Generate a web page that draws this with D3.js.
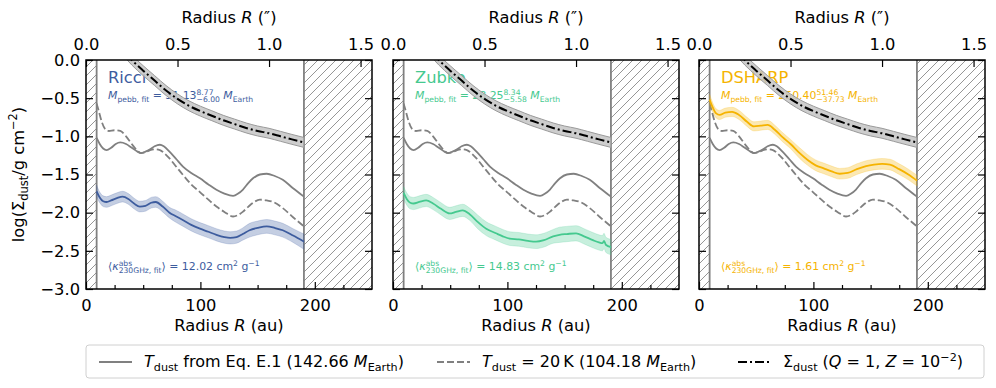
<!DOCTYPE html>
<html>
<head>
<meta charset="utf-8">
<script src="https://cdn.jsdelivr.net/npm/d3@7"></script>
<style>
  body { margin: 0; background: #fff; }
  text { font-family: "DejaVu Sans", sans-serif; white-space: pre; }
</style>
</head>
<body>
<svg id="fig" width="996" height="388"></svg>
<script>
// ---- data ----
// T_dust from Eq. E.1 (same in every panel)
const radiusEq = [9.3, 12, 15, 18, 22, 26, 30, 35, 40, 45, 48, 52, 56, 60, 64.6, 68, 73, 79, 85, 92, 99.6, 107, 114, 121, 128.6, 133, 137, 142, 146, 152, 158, 165, 172, 181, 190.5];
const sigmaEq = [-1.02, -1.10, -1.16, -1.18, -1.15, -1.10, -1.08, -1.10, -1.15, -1.20, -1.22, -1.20, -1.17, -1.13, -1.11, -1.13, -1.20, -1.30, -1.40, -1.48, -1.55, -1.63, -1.70, -1.75, -1.78, -1.75, -1.70, -1.61, -1.55, -1.50, -1.49, -1.52, -1.57, -1.68, -1.79];
// T_dust = 20 K
const radius20K = [9.3, 11, 14, 17, 20, 25, 30, 35, 40, 45, 48, 52, 56, 60, 64.6, 69, 73, 79, 85, 92, 99.6, 107, 114, 121, 128.6, 133, 137, 142, 147, 152, 158, 163.6, 172, 181, 190.5];
const sigma20K = [-0.57, -0.66, -0.82, -0.91, -0.93, -0.92, -0.93, -1.00, -1.10, -1.19, -1.22, -1.21, -1.18, -1.17, -1.18, -1.23, -1.29, -1.40, -1.51, -1.63, -1.73, -1.83, -1.92, -1.99, -2.05, -2.03, -1.99, -1.92, -1.86, -1.83, -1.84, -1.86, -1.94, -2.06, -2.18];
// Sigma_dust (Q = 1, Z = 1e-2)
const radiusQ = [35, 40, 50, 60, 70, 80, 90, 100, 110, 120, 130, 140, 150, 160, 170, 180, 190.5];
const sigmaQ = [0.08, 0.0, -0.14, -0.27, -0.40, -0.51, -0.60, -0.67, -0.73, -0.79, -0.84, -0.89, -0.93, -0.96, -1.00, -1.04, -1.08];
const errQ = 0.065;

// fitted profiles per opacity model
const ricciR = [9.3, 12, 15, 18, 22, 27, 32, 37, 42, 47, 52, 57, 61, 67, 73, 79, 85, 92, 99.6, 107, 114, 121, 126, 131.6, 137, 143, 150, 158, 165, 172, 181, 190.5];
const ricciSigma = [-1.72, -1.80, -1.85, -1.86, -1.84, -1.81, -1.79, -1.82, -1.88, -1.92, -1.91, -1.87, -1.86, -1.92, -2.00, -2.05, -2.10, -2.16, -2.21, -2.25, -2.29, -2.32, -2.33, -2.32, -2.28, -2.23, -2.20, -2.18, -2.20, -2.23, -2.30, -2.38];
const ricciErr = [0.08, 0.07, 0.07, 0.07, 0.07, 0.07, 0.07, 0.07, 0.07, 0.07, 0.07, 0.07, 0.07, 0.07, 0.07, 0.08, 0.08, 0.08, 0.08, 0.08, 0.08, 0.08, 0.08, 0.08, 0.08, 0.09, 0.09, 0.09, 0.09, 0.09, 0.09, 0.10];
const zubkoR = [9.3, 12, 15, 18, 23, 29, 35, 42, 49.5, 55, 61, 67, 74, 81.5, 90, 96, 102, 110, 118, 125, 132, 140, 145.6, 152, 160, 167, 174.7, 180, 183, 184.5, 186, 190.5];
const zubkoSigma = [-1.74, -1.82, -1.87, -1.88, -1.86, -1.84, -1.88, -1.95, -2.01, -1.99, -1.97, -2.02, -2.12, -2.21, -2.27, -2.31, -2.34, -2.35, -2.37, -2.38, -2.36, -2.31, -2.29, -2.28, -2.27, -2.31, -2.36, -2.39, -2.40, -2.37, -2.42, -2.45];
const zubkoErr = [0.08, 0.08, 0.08, 0.08, 0.08, 0.08, 0.08, 0.08, 0.08, 0.08, 0.08, 0.08, 0.09, 0.09, 0.09, 0.09, 0.09, 0.09, 0.09, 0.09, 0.09, 0.09, 0.10, 0.10, 0.10, 0.10, 0.10, 0.10, 0.10, 0.10, 0.10, 0.10];
const dsharpR = [9.3, 12, 15, 18, 23, 29, 35, 42, 48, 54, 60, 66, 73, 80, 88, 95, 102, 109, 116, 123, 130, 138, 146, 153, 160, 167, 175, 183, 190.5];
const dsharpSigma = [-0.52, -0.62, -0.70, -0.72, -0.69, -0.68, -0.72, -0.81, -0.87, -0.86, -0.85, -0.91, -1.01, -1.10, -1.22, -1.31, -1.38, -1.42, -1.46, -1.49, -1.48, -1.43, -1.39, -1.37, -1.36, -1.37, -1.43, -1.50, -1.58];
const dsharpErr = [0.07, 0.06, 0.06, 0.06, 0.06, 0.06, 0.06, 0.06, 0.06, 0.06, 0.06, 0.06, 0.06, 0.06, 0.07, 0.07, 0.07, 0.07, 0.07, 0.07, 0.07, 0.07, 0.07, 0.07, 0.07, 0.07, 0.07, 0.07, 0.07];

const modelNames = ["Ricci", "Zubko", "DSHARP"];
const massFit = [31.13, 28.25, 250.40];
const massUp = [8.77, 8.34, 51.46];
const massLo = [6.00, 5.58, 37.73];
const kappaFit = [12.02, 14.83, 1.61];
const massEq = 142.66, mass20K = 104.18;

const auTicks = [0, 100, 200];
const auMinorTicks = [25, 50, 75, 125, 150, 175, 225];
const arcsecTicks = [0, 0.5, 1.0, 1.5];
const sigmaTicks = [-3, -2.5, -2, -1.5, -1, -0.5, 0];
const innerCut = 9.3, outerCut = 190.5;   // hatched (excluded) regions, au
const auPerArcsec = 160;

// ---- layout ----
const colors = ["#3d5c9e", "#45c98f", "#f5b300"];
const panelLeft = [86, 393, 699], panelWidth = 286;
const plotTop = 60, plotBottom = 289;
const fs = 16.3, fsSmall = 10.9;

const svg = d3.select("#fig");
const defs = svg.append("defs");
defs.append("pattern")
    .attr("id", "hatch").attr("patternUnits", "userSpaceOnUse")
    .attr("width", 9).attr("height", 9)
  .append("path")
    .attr("d", "M-2,2 l4,-4 M0,9 l9,-9 M7,11 l4,-4")
    .attr("stroke", "#8a8a8a").attr("stroke-width", 0.9);

// text with italic / sub / sup pieces, measured piece by piece
function richText(parent, x, y, parts, size, color) {
    const grp = parent.append("g").attr("transform", `translate(${x},${y})`);
    let cx = 0, stackStart = 0, stackW = 0;
    parts.forEach(p => {
        const small = p.pos ? size * 0.7 : size;
        const dy = p.pos === "sup" ? -size * 0.4 : p.pos === "sub" ? size * 0.25 : 0;
        const px = p.stack ? stackStart : cx;
        const t = grp.append("text")
            .attr("x", px).attr("y", dy)
            .attr("font-size", small)
            .attr("font-style", p.it ? "italic" : null)
            .attr("fill", color)
            .text(p.s);
        const w = t.node().getComputedTextLength();
        if (p.stack) {
            cx = stackStart + Math.max(stackW, w);
        } else {
            stackStart = cx; stackW = w; cx += w;
        }
    });
    return { grp, width: cx };
}

const profiles = [
    { r: ricciR, s: ricciSigma, e: ricciErr },
    { r: zubkoR, s: zubkoSigma, e: zubkoErr },
    { r: dsharpR, s: dsharpSigma, e: dsharpErr }
];

const y = d3.scaleLinear().domain([-3, 0]).range([plotBottom, plotTop]);

profiles.forEach((prof, i) => {
    const x0 = panelLeft[i];
    const x = d3.scaleLinear().domain([0, 250]).range([x0, x0 + panelWidth]);
    const xs = d3.scaleLinear().domain([0, 250 / auPerArcsec]).range([x0, x0 + panelWidth]);
    const g = svg.append("g");

    defs.append("clipPath").attr("id", "clip" + i)
      .append("rect").attr("x", x0).attr("y", plotTop)
        .attr("width", panelWidth).attr("height", plotBottom - plotTop);

    // hatched regions
    [[0, innerCut], [outerCut, 250]].forEach(([a, b]) => {
        g.append("rect")
            .attr("x", x(a)).attr("y", plotTop)
            .attr("width", x(b) - x(a)).attr("height", plotBottom - plotTop)
            .attr("fill", "url(#hatch)");
    });
    [innerCut, outerCut].forEach(v => {
        g.append("line")
            .attr("x1", x(v)).attr("x2", x(v))
            .attr("y1", plotTop).attr("y2", plotBottom)
            .attr("stroke", "#808080").attr("stroke-width", 1.8);
    });

    // annotations
    g.append("text").attr("x", x0 + 22).attr("y", 83)
        .attr("font-size", fs).attr("fill", colors[i]).text(modelNames[i]);
    richText(g, x0 + 22, 99, [
        { s: "M", it: 1 }, { s: "pebb, fit", pos: "sub" },
        { s: " = " + massFit[i].toFixed(2) },
        { s: massUp[i].toFixed(2), pos: "sup" }, { s: "\u2212" + massLo[i].toFixed(2), pos: "sub", stack: 1 },
        { s: " " }, { s: "M", it: 1 }, { s: "Earth", pos: "sub" }
    ], fsSmall, colors[i]);
    richText(g, x0 + 22, 270, [
        { s: "\u27E8" }, { s: "\u03BA", it: 1 },
        { s: "abs", pos: "sup" }, { s: "230GHz, fit", pos: "sub", stack: 1 },
        { s: "\u27E9 = " + kappaFit[i].toFixed(2) + " cm" }, { s: "2", pos: "sup" },
        { s: " g" }, { s: "\u22121", pos: "sup" }
    ], fsSmall, colors[i]);

    const plot = g.append("g").attr("clip-path", `url(#clip${i})`);
    const line = d3.line().x(d => x(d[0])).y(d => y(d[1])).curve(d3.curveMonotoneX);
    const band = d3.area().x(d => x(d[0])).y0(d => y(d[1] - d[2])).y1(d => y(d[1] + d[2]))
        .curve(d3.curveMonotoneX);

    // Toomre-limited surface density
    const qPts = radiusQ.map((r, k) => [r, sigmaQ[k], errQ]);
    plot.append("path").attr("d", band(qPts))
        .attr("fill", "#c4c4c4").attr("fill-opacity", 0.85)
        .attr("stroke", "#9a9a9a").attr("stroke-width", 1);
    plot.append("path").attr("d", line(qPts))
        .attr("fill", "none").attr("stroke", "#000").attr("stroke-width", 2)
        .attr("stroke-dasharray", "9,3,2,3");

    // gray temperature models
    plot.append("path").attr("d", line(radiusEq.map((r, k) => [r, sigmaEq[k]])))
        .attr("fill", "none").attr("stroke", "#808080").attr("stroke-width", 1.8);
    plot.append("path").attr("d", line(radius20K.map((r, k) => [r, sigma20K[k]])))
        .attr("fill", "none").attr("stroke", "#808080").attr("stroke-width", 1.8)
        .attr("stroke-dasharray", "7,3");

    // fitted profile
    const pts = prof.r.map((r, k) => [r, prof.s[k], prof.e[k]]);
    plot.append("path").attr("d", band(pts))
        .attr("fill", colors[i]).attr("fill-opacity", 0.3)
        .attr("stroke", colors[i]).attr("stroke-opacity", 0.2);
    plot.append("path").attr("d", line(pts))
        .attr("fill", "none").attr("stroke", colors[i]).attr("stroke-width", 1.8);

    // axes (ticks pointing inward)
    const styleAxis = sel => {
        sel.select(".domain").remove();
        sel.selectAll(".tick line").attr("stroke", "#000").attr("stroke-width", 1.2);
        sel.selectAll("text").attr("font-size", fs).attr("font-family", "DejaVu Sans").attr("fill", "#000");
    };
    g.append("g").attr("transform", `translate(0,${plotBottom})`)
        .call(d3.axisBottom(x).tickValues(auTicks).tickSize(-7).tickPadding(10).tickFormat(d3.format("d")))
        .call(styleAxis);
    g.append("g").attr("transform", `translate(0,${plotBottom})`)
        .call(d3.axisBottom(x).tickValues(auMinorTicks).tickSize(-4).tickFormat(""))
        .call(styleAxis);
    g.append("g").attr("transform", `translate(0,${plotTop})`)
        .call(d3.axisTop(xs).tickValues(arcsecTicks).tickSize(-7).tickPadding(10).tickFormat(d3.format(".1f")))
        .call(styleAxis);
    g.append("g").attr("transform", `translate(${x0},0)`)
        .call(d3.axisLeft(y).tickValues(sigmaTicks).tickSize(-7).tickPadding(6)
            .tickFormat(i === 0 ? d3.format(".1f") : ""))
        .call(styleAxis);
    g.append("g").attr("transform", `translate(${x0 + panelWidth},0)`)
        .call(d3.axisRight(y).tickValues(sigmaTicks).tickSize(-7).tickFormat(""))
        .call(styleAxis);

    g.append("rect").attr("x", x0).attr("y", plotTop)
        .attr("width", panelWidth).attr("height", plotBottom - plotTop)
        .attr("fill", "none").attr("stroke", "#000").attr("stroke-width", 1.5);

    // axis titles
    const cxp = x0 + panelWidth / 2;
    const top = richText(g, 0, 23, [{ s: "Radius " }, { s: "R", it: 1 }, { s: " (\u2033)" }], fs, "#000");
    top.grp.attr("transform", `translate(${cxp - top.width / 2},23)`);
    const bot = richText(g, 0, 331, [{ s: "Radius " }, { s: "R", it: 1 }, { s: " (au)" }], fs, "#000");
    bot.grp.attr("transform", `translate(${cxp - bot.width / 2},331)`);
});

// y label
const yl = richText(svg, 0, 0, [
    { s: "log(\u03A3" }, { s: "dust", pos: "sub" }, { s: "/g cm" }, { s: "\u22122", pos: "sup" }, { s: ")" }
], fs, "#000");
yl.grp.attr("transform", `translate(24,${(plotTop + plotBottom) / 2}) rotate(-90) translate(${-yl.width / 2},0)`);

// legend
const leg = svg.append("g");
leg.append("rect").attr("x", 86).attr("y", 345).attr("width", 898).attr("height", 33)
    .attr("rx", 3).attr("fill", "#fff").attr("stroke", "#d0d0d0").attr("stroke-width", 1);
const legendItems = [
    { x: 99, stroke: "#808080", dash: null, w: 1.8,
      parts: [{ s: "T", it: 1 }, { s: "dust", pos: "sub" }, { s: " from Eq. E.1 (" + massEq.toFixed(2) + " " }, { s: "M", it: 1 }, { s: "Earth", pos: "sub" }, { s: ")" }] },
    { x: 437, stroke: "#808080", dash: "7,3", w: 1.8,
      parts: [{ s: "T", it: 1 }, { s: "dust", pos: "sub" }, { s: " = 20\u2009K (" + mass20K.toFixed(2) + " " }, { s: "M", it: 1 }, { s: "Earth", pos: "sub" }, { s: ")" }] },
    { x: 738, stroke: "#000", dash: "9,3,2,3", w: 2,
      parts: [{ s: "\u03A3" }, { s: "dust", pos: "sub" }, { s: " (" }, { s: "Q", it: 1 }, { s: " = 1, " }, { s: "Z", it: 1 }, { s: " = 10" }, { s: "\u22122", pos: "sup" }, { s: ")" }] }
];
legendItems.forEach(it => {
    leg.append("line").attr("x1", it.x).attr("x2", it.x + 33).attr("y1", 362).attr("y2", 362)
        .attr("stroke", it.stroke).attr("stroke-width", it.w).attr("stroke-dasharray", it.dash);
    richText(leg, it.x + 45, 367, it.parts, 16, "#000");
});
</script>
</body>
</html>
